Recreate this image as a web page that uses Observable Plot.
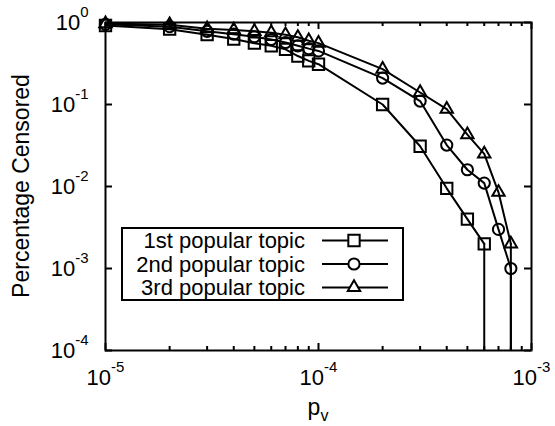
<!DOCTYPE html>
<html>
<head>
<meta charset="utf-8">
<script src="https://cdn.jsdelivr.net/npm/d3@7"></script>
<script src="https://cdn.jsdelivr.net/npm/@observablehq/plot@0.6"></script>
<style>
  html, body { margin: 0; padding: 0; background: white; }
  #chart svg { display: block; }
</style>
</head>
<body>
<div id="chart"></div>
<script>
// ---- data ----
const xValues = [1e-5, 2e-5, 3e-5, 4e-5, 5e-5, 6e-5, 7e-5, 8e-5, 9e-5, 1e-4,
                 2e-4, 3e-4, 4e-4, 5e-4, 6e-4, 7e-4, 8e-4];
const topic1 = [0.92, 0.83, 0.71, 0.63, 0.56, 0.52, 0.47, 0.39, 0.34, 0.31,
                0.1, 0.031, 0.0095, 0.004, 0.002];
const topic2 = [0.95, 0.89, 0.78, 0.72, 0.67, 0.62, 0.57, 0.52, 0.48, 0.45,
                0.21, 0.11, 0.032, 0.016, 0.011, 0.003, 0.001];
const topic3 = [0.97, 0.94, 0.84, 0.81, 0.78, 0.75, 0.71, 0.66, 0.6, 0.56,
                0.27, 0.14, 0.088, 0.043, 0.025, 0.0085, 0.002];
const seriesNames = ["1st popular topic", "2nd popular topic", "3rd popular topic"];
const symbols = ["square", "circle", "triangle"];
const xMajor = [1e-5, 1e-4, 1e-3];
const xMinor = [2e-5, 3e-5, 4e-5, 5e-5, 6e-5, 7e-5, 8e-5, 9e-5,
                2e-4, 3e-4, 4e-4, 5e-4, 6e-4, 7e-4, 8e-4, 9e-4];
const yMajor = [1e-4, 1e-3, 1e-2, 1e-1, 1];
const xDomain = [1e-5, 1e-3];
const yDomain = [1e-4, 1];
const xLabel = "p_v";
const yLabel = "Percentage Censored";

// ---- layout ----
const W = 555, H = 426;
const mL = 105, mR = 24, mT = 22, mB = 76;
const plotH = H - mT - mB;
const font = "'Liberation Sans', Arial, Helvetica, sans-serif";
const tickFont = 22, labelFont = 23, legendFont = 22;
const symR = {square: 6.4, circle: 5.6, triangle: 4.6};

const seriesVals = [topic1, topic2, topic3];
const rows = seriesVals.flatMap((vals, i) =>
  vals.map((v, j) => ({series: seriesNames[i], sym: symbols[i], x: xValues[j], y: v})));
const lastPts = seriesVals.map(vals => ({x: xValues[vals.length - 1], y: vals[vals.length - 1]}));

const expFmt = d => "10^" + Math.round(Math.log10(d));

const marks = [
  // ticks (inward, mirrored)
  Plot.ruleX(xMajor, {x: d => d, insetTop: plotH - 7, stroke: "black", strokeWidth: 2}),
  Plot.ruleX(xMajor, {x: d => d, insetBottom: plotH - 7, stroke: "black", strokeWidth: 2}),
  Plot.ruleX(xMinor, {x: d => d, insetTop: plotH - 4, stroke: "black", strokeWidth: 2}),
  Plot.ruleX(xMinor, {x: d => d, insetBottom: plotH - 4, stroke: "black", strokeWidth: 2}),
  Plot.ruleY(yMajor, {y: d => d, insetRight: W - mL - mR - 7, stroke: "black", strokeWidth: 2}),
  Plot.ruleY(yMajor, {y: d => d, insetLeft: W - mL - mR - 7, stroke: "black", strokeWidth: 2}),
  // drop lines to the bottom where the series falls to zero
  Plot.ruleX(lastPts, {x: "x", y1: "y", y2: () => yDomain[0], stroke: "black", strokeWidth: 2}),
  // series lines
  Plot.line(rows, {x: "x", y: "y", z: "series", stroke: "black", strokeWidth: 2}),
  ...symbols.map(s =>
    Plot.dot(rows.filter(r => r.sym === s), {x: "x", y: "y", symbol: s, r: symR[s],
      stroke: "black", strokeWidth: 2, fill: "none"})),
  Plot.frame({stroke: "black", strokeWidth: 2}),
  Plot.axisX(xMajor, {tickSize: 0, tickPadding: 19, tickFormat: expFmt, fontSize: tickFont}),
  Plot.axisY(yMajor, {tickSize: 0, tickPadding: 17, tickFormat: expFmt, fontSize: tickFont})
];

const chart = Plot.plot({
  width: W, height: H,
  marginLeft: mL, marginRight: mR, marginTop: mT, marginBottom: mB,
  x: {type: "log", domain: xDomain, label: null},
  y: {type: "log", domain: yDomain, label: null},
  style: {fontFamily: font, fontSize: tickFont + "px", background: "white", color: "black"},
  marks
});

// superscripts for tick labels
d3.select(chart).selectAll("text").each(function() {
  const t = this.textContent;
  if (t.includes("^")) {
    const [base, ex] = t.split("^");
    const sel = d3.select(this);
    sel.text("");
    sel.append("tspan").text(base);
    sel.append("tspan").attr("dy", -13).attr("font-size", Math.round(tickFont * 0.7)).text(ex);
  }
});

const svg = d3.select(chart);
const cx = (mL + W - mR) / 2, cy = (mT + H - mB) / 2;

// axis labels
svg.append("text")
  .attr("transform", `translate(29,${cy}) rotate(-90)`)
  .attr("text-anchor", "middle").attr("font-family", font).attr("font-size", labelFont)
  .text(yLabel);
const [xb, xs] = xLabel.split("_");
const xl = svg.append("text").attr("x", cx).attr("y", 415)
  .attr("text-anchor", "middle").attr("font-family", font).attr("font-size", labelFont);
xl.append("tspan").text(xb);
xl.append("tspan").attr("dy", 6).attr("font-size", 16).text(xs);

// legend
const lg = svg.append("g").attr("font-family", font).attr("font-size", legendFont);
const box = {x0: 122, y0: 228, x1: 403, y1: 300};
lg.append("rect").attr("x", box.x0).attr("y", box.y0)
  .attr("width", box.x1 - box.x0).attr("height", box.y1 - box.y0)
  .attr("fill", "white").attr("stroke", "black").attr("stroke-width", 2);
const symMap = {square: d3.symbolSquare, circle: d3.symbolCircle, triangle: d3.symbolTriangle};
const legendRows = [240.5, 264, 287.5];
seriesNames.forEach((name, i) => {
  const y = legendRows[i];
  lg.append("text").attr("x", 305).attr("y", y).attr("dy", "0.35em")
    .attr("text-anchor", "end").text(name);
  lg.append("line").attr("x1", 322).attr("x2", 388).attr("y1", y).attr("y2", y)
    .attr("stroke", "black").attr("stroke-width", 2);
  const r = symR[symbols[i]];
  lg.append("path").attr("transform", `translate(354,${y})`)
    .attr("d", d3.symbol(symMap[symbols[i]], r * r * Math.PI)())
    .attr("fill", "white").attr("stroke", "black").attr("stroke-width", 2);
});

document.getElementById("chart").appendChild(chart);
</script>
</body>
</html>
